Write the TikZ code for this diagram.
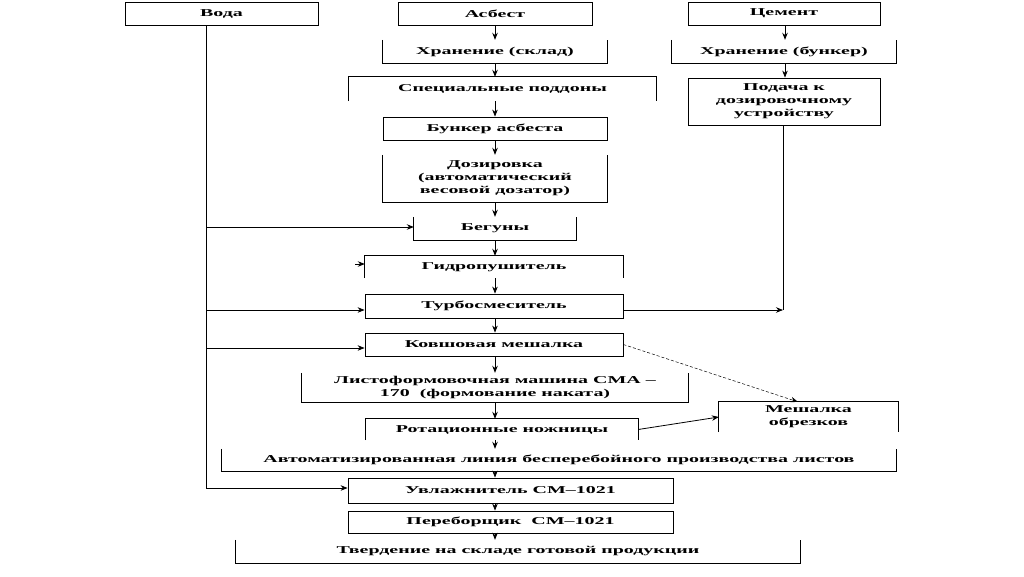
\documentclass[tikz,border=0pt]{standalone}
\usepackage{fontspec}
\setmainfont{Liberation Serif}
\newfontfamily\widefont[FakeStretch=1.9]{Liberation Serif}
\usetikzlibrary{arrows.meta,calc}
\begin{document}
\begin{tikzpicture}[x=1pt,y=-1pt,
  box/.style={inner sep=0pt, align=center, font=\widefont\bfseries\fontsize{10.5}{13}\selectfont},
  fullbox/.style={box, draw, line width=0.8pt},
  edge/.style={line width=0.8pt},
  arr/.style={line width=0.8pt, -{Stealth[length=7pt,width=5.5pt]}},
  darr/.style={line width=0.5pt, densely dashed, -{Stealth[length=7pt,width=5.5pt]}}]
\path[use as bounding box] (0,0) rectangle (1024,576);
\coordinate (X) at (495,0);
% column heads
\node[fullbox, minimum width=193pt, minimum height=23pt] (voda) at (221.5,13.5) {Вода};
\node[fullbox, minimum width=194pt, minimum height=23pt] (asb) at (495,13.5) {Асбест};
\node[fullbox, minimum width=192pt, minimum height=23pt] (cem) at (784,13.5) {Цемент};
% asbestos chain
\node[box, minimum width=224pt, minimum height=23pt] (hr1) at (495,51.5) {Хранение (склад)};
\node[box, minimum width=307pt, minimum height=24pt] (pod) at (502.5,89) {Специальные поддоны};
\node[fullbox, minimum width=224pt, minimum height=23pt] (bunk) at (495,128.5) {Бункер асбеста};
\node[box, minimum width=224pt, minimum height=47pt] (doz) at (495,178.5) {Дозировка\\(автоматический\\весовой дозатор)};
\node[box, minimum width=162pt, minimum height=23pt] (beg) at (495,228.5) {Бегуны};
\node[box, minimum width=258pt, minimum height=22pt] (gidro) at (494,267) {Гидропушитель};
\node[fullbox, minimum width=258pt, minimum height=24pt] (turbo) at (494,306) {Турбосмеситель};
\node[fullbox, minimum width=258pt, minimum height=23pt] (kovsh) at (494,344.5) {Ковшовая мешалка};
\node[box, minimum width=386pt, minimum height=29pt] (list) at (495,387.5) {Листоформовочная машина СМА –\\170~~(формование наката)};
\node[box, minimum width=272pt, minimum height=21pt] (rot) at (502,429.5) {Ротационные ножницы};
\node[box, minimum width=179pt, minimum height=30pt] (mesh) at (808.5,417) {Мешалка\\обрезков};
\node[box, minimum width=674pt, minimum height=22pt] (auto) at (559,460) {Автоматизированная линия бесперебойного производства листов};
\node[fullbox, minimum width=325pt, minimum height=25pt] (uvl) at (510.5,490.5) {Увлажнитель СМ–1021};
\node[fullbox, minimum width=325pt, minimum height=22pt] (pereb) at (510.5,522) {Переборщик~~СМ–1021};
\node[box, minimum width=564pt, minimum height=23pt] (tverd) at (518,551.5) {Твердение на складе готовой продукции};
% cement chain
\node[box, minimum width=224pt, minimum height=23pt] (hr2) at (784,51.5) {Хранение (бункер)};
\node[fullbox, minimum width=192pt, minimum height=47pt] (podacha) at (784,101.5) {Подача к\\дозировочному\\устройству};
% open-sided borders
\foreach \n in {hr1,doz,beg,list,auto,tverd,hr2}
  \draw[edge] (\n.north west) -- (\n.south west) -- (\n.south east) -- (\n.north east);
\foreach \n in {pod,gidro,rot,mesh}
  \draw[edge] (\n.south west) -- (\n.north west) -- (\n.north east) -- (\n.south east);
% main vertical arrows
\draw[arr] (asb.south -| X) -- (hr1.north -| X);
\draw[arr] (hr1.south -| X) -- (pod.north -| X);
\draw[arr] (pod.south -| X) -- (bunk.north -| X);
\draw[arr] (bunk.south -| X) -- (doz.north -| X);
\draw[arr] (doz.south -| X) -- (beg.north -| X);
\draw[arr] (beg.south -| X) -- (gidro.north -| X);
\draw[arr] (gidro.south -| X) -- (turbo.north -| X);
\draw[arr] (turbo.south -| X) -- (kovsh.north -| X);
\draw[arr] (kovsh.south -| X) -- (list.north -| X);
\draw[arr] (list.south -| X) -- (rot.north -| X);
\draw[arr] (rot.south -| X) -- (auto.north -| X);
\draw[arr] (auto.south -| X) -- (uvl.north -| X);
\draw[arr] (uvl.south -| X) -- (pereb.north -| X);
\draw[arr] (pereb.south -| X) -- (tverd.north -| X);
% water line
\coordinate (v0) at (206,25);
\coordinate (w1) at (206,227);
\coordinate (w2) at (206,310);
\coordinate (w3) at (206,348);
\coordinate (w4) at (206,488);
\draw[edge] (v0) -- (w4);
\draw[arr] (w1) -- (w1 -| beg.west);
\draw[arr] (w2) -- (w2 -| turbo.west);
\draw[arr] (w3) -- (w3 -| kovsh.west);
\draw[arr] (w4) -- (w4 -| uvl.west);
\coordinate (g0) at (355,264);
\draw[arr] (g0) -- (g0 -| gidro.west);
% cement line
\coordinate (CX) at (785,0);
\draw[arr] (cem.south -| CX) -- (hr2.north -| CX);
\draw[arr] (hr2.south -| CX) -- (podacha.north -| CX);
\coordinate (c1) at (783,310);
\draw[edge] (podacha.south -| c1) -- (c1);
\draw[arr] (c1 -| turbo.east) -- (c1);
% scraps mixer
\coordinate (m1) at ($(mesh.north west)+(79,0)$);
\draw[darr] (kovsh.east) -- (m1);
\draw[arr] (rot.east) -- (mesh.west);
\end{tikzpicture}
\end{document}
